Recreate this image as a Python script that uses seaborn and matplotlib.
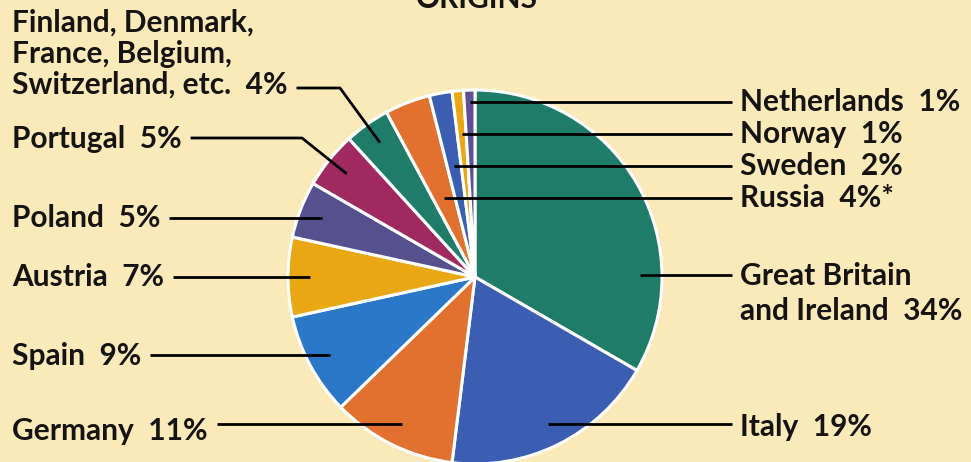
import numpy as np
import matplotlib
matplotlib.use("Agg")
import matplotlib.pyplot as plt
import seaborn as sns

# ---------------- data ----------------
title = "ORIGINS"
countries = ["Great Britain\nand Ireland", "Italy", "Germany", "Spain", "Austria",
             "Poland", "Portugal",
             "Finland, Denmark,\nFrance, Belgium,\nSwitzerland, etc.",
             "Russia", "Sweden", "Norway", "Netherlands"]
shares = [34, 19, 11, 9, 7, 5, 5, 4, 4, 2, 1, 1]
notes = ["", "", "", "", "", "", "", "", "*", "", "", ""]

# ---------------- style ----------------
BG = "#faeab9"
colors = ["#1f7c69", "#3b5eb3", "#e2712f", "#2b78c8", "#e9a714", "#56508f",
          "#a0295f", "#1f7c69", "#e2712f", "#3b5eb3", "#e9a714", "#5f4f96"]
TXT = "#161412"

sns.set_theme(style="white")
plt.rcParams['font.family'] = ['Lato', 'DejaVu Sans']

W, H = 971, 462
fig = plt.figure(figsize=(W / 100, H / 100), dpi=100)
fig.patch.set_facecolor(BG)
ax = fig.add_axes([0, 0, 1, 1])
ax.set_facecolor(BG)

def Y(y):  # image pixel row -> data y
    return H - y

CX, CY, R = 475, 277, 187
wedges, _ = ax.pie(shares, colors=colors, startangle=90, counterclock=False,
                   center=(CX, Y(CY)), radius=R, frame=True,
                   wedgeprops=dict(edgecolor="white", linewidth=2.2))
ax.set_xlim(0, W)
ax.set_ylim(0, H)
ax.set_aspect("auto")
ax.axis("off")

FS = 21.5
LW = 2.0
RF = 0.88  # anchor radius fraction
KW = dict(fontsize=FS, fontweight="bold", color=TXT)

def mid(i):
    w = wedges[i]
    return np.deg2rad((w.theta1 + w.theta2) / 2)

def ray_point(i, frac=RF):
    a = mid(i)
    return CX + R * frac * np.cos(a), CY - R * frac * np.sin(a)

def ray_at_y(i, y):
    a = mid(i)
    r = (CY - y) / np.sin(a)
    return CX + r * np.cos(a), y

def line(pts):
    xs = [p[0] for p in pts]
    ys = [Y(p[1]) for p in pts]
    ax.plot(xs, ys, color="black", lw=LW, solid_capstyle="butt", zorder=5)

def lab(i):
    return f"{countries[i]}  {shares[i]}%{notes[i]}"

fig.canvas.draw()
rend = fig.canvas.get_renderer()

# ---- right side ----
RX_TEXT, RX_LINE = 740, 732
right_small = {11: 102, 10: 134, 9: 166, 8: 198}
for i, y in right_small.items():
    ax.text(RX_TEXT, Y(y + 9), lab(i), ha="left", va="baseline", **KW)
    x0, _ = ray_at_y(i, y)
    line([(x0, y), (RX_LINE, y)])

# Great Britain (first line on the leader)
gy = 275
dy = CY - gy
gx = CX + np.sqrt((R * RF) ** 2 - dy ** 2)
ax.text(RX_TEXT, Y(gy - 13), lab(0), ha="left", va="top",
        linespacing=1.3, **KW)
line([(gx, gy), (RX_LINE, gy)])

# Italy
ix, iy = ray_point(1)
ax.text(RX_TEXT, Y(iy + 12), lab(1), ha="left", va="baseline", **KW)
line([(ix, iy), (RX_LINE, iy)])

# ---- left side ----
LX = 12
GAP = 9

def left_label(i, y, ty, elbow_x=None):
    t = ax.text(LX, Y(ty), lab(i), ha="left", va="baseline", **KW)
    bb = t.get_window_extent(renderer=rend)
    x_end = bb.x1 + GAP
    ax_, ay_ = ray_point(i)
    if elbow_x is None:
        line([(x_end, ay_), (ax_, ay_)])
    else:
        line([(x_end, y), (elbow_x, y), (ax_, ay_)])

for i, off in zip([2, 3, 4, 5], [16, 10, 9, 9]):
    _, yy = ray_point(i)
    left_label(i, yy, yy + off)
left_label(6, 138, 148, elbow_x=302)

# Finland etc. (three lines, last line carries the leader)
tf = ax.text(LX, Y(94), lab(7), ha="left", va="baseline",
             linespacing=1.13, **KW)
bb = tf.get_window_extent(renderer=rend)
fx, fy = ray_point(7)
line([(bb.x1 + GAP, 88), (340, 88), (fx, fy)])

# title (cut at top)
ax.text(CX + 2, Y(8), title, ha="center", va="baseline", **KW)

fig.savefig("out.png", dpi=100, facecolor=BG)
